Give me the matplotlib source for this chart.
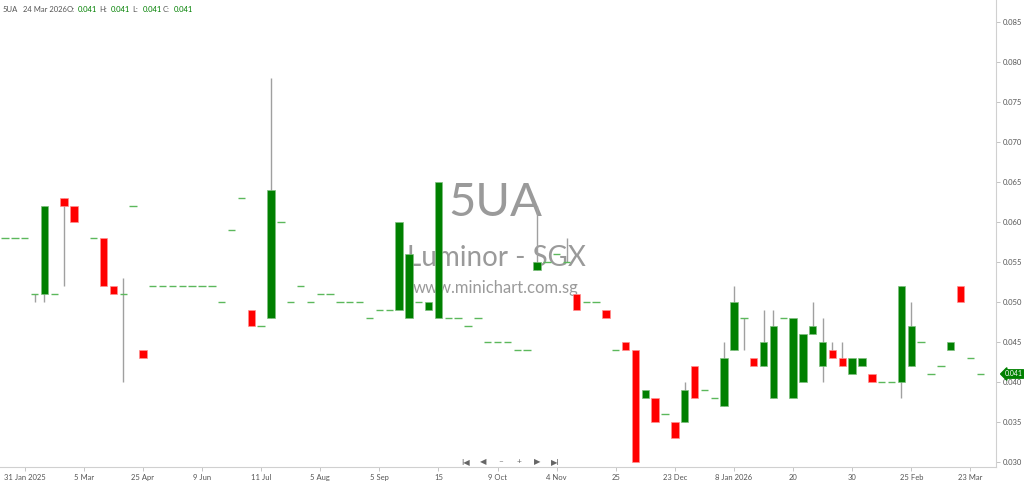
import numpy as np
import matplotlib
matplotlib.use("Agg")
import matplotlib.pyplot as plt
import matplotlib.transforms as mtransforms

plt.rcParams["font.family"] = ["Lato", "DejaVu Sans"]

# daily candles (trading-day index), NaN = no print
opens = [0.058, 0.058, 0.058, 0.051, 0.051, 0.051, 0.063, 0.062, np.nan, 0.058,
         0.058, 0.052, 0.051, 0.062, 0.044, 0.052, 0.052, 0.052, 0.052, 0.052,
         0.052, 0.052, 0.050, 0.059, 0.063, 0.049, 0.047, 0.048, 0.060, 0.050,
         0.052, 0.050, 0.051, 0.051, 0.050, 0.050, 0.050, 0.048, 0.049, 0.049,
         0.049, 0.048, 0.050, 0.049, 0.048, 0.048, 0.048, 0.047, 0.048, 0.045,
         0.045, 0.045, 0.044, 0.044, 0.054, 0.055, 0.056, 0.055, 0.051, 0.050,
         0.050, 0.049, 0.044, 0.045, 0.044, 0.038, 0.038, 0.036, 0.035, 0.035,
         0.042, 0.039, 0.038, 0.037, 0.044, 0.048, 0.043, 0.042, 0.038, 0.048,
         0.038, 0.040, 0.046, 0.042, 0.044, 0.043, 0.041, 0.042, 0.041, 0.040,
         0.040, 0.040, 0.042, 0.045, 0.041, 0.042, 0.044, 0.052, 0.043, 0.041]
closes = [0.058, 0.058, 0.058, 0.051, 0.062, 0.051, 0.062, 0.060, np.nan, 0.058,
          0.052, 0.051, 0.051, 0.062, 0.043, 0.052, 0.052, 0.052, 0.052, 0.052,
          0.052, 0.052, 0.050, 0.059, 0.063, 0.047, 0.047, 0.064, 0.060, 0.050,
          0.052, 0.050, 0.051, 0.051, 0.050, 0.050, 0.050, 0.048, 0.049, 0.049,
          0.060, 0.056, 0.050, 0.050, 0.065, 0.048, 0.048, 0.047, 0.048, 0.045,
          0.045, 0.045, 0.044, 0.044, 0.055, 0.055, 0.056, 0.055, 0.049, 0.050,
          0.050, 0.048, 0.044, 0.044, 0.030, 0.039, 0.035, 0.036, 0.033, 0.039,
          0.038, 0.039, 0.038, 0.043, 0.050, 0.048, 0.042, 0.045, 0.047, 0.048,
          0.048, 0.046, 0.047, 0.045, 0.043, 0.042, 0.043, 0.043, 0.040, 0.040,
          0.040, 0.052, 0.047, 0.045, 0.041, 0.042, 0.045, 0.050, 0.043, 0.041]
highs = [0.058, 0.058, 0.058, 0.051, 0.062, 0.051, 0.063, 0.062, np.nan, 0.058,
         0.058, 0.052, 0.053, 0.062, 0.044, 0.052, 0.052, 0.052, 0.052, 0.052,
         0.052, 0.052, 0.050, 0.059, 0.063, 0.049, 0.047, 0.078, 0.060, 0.050,
         0.052, 0.050, 0.051, 0.051, 0.050, 0.050, 0.050, 0.048, 0.049, 0.049,
         0.060, 0.056, 0.050, 0.050, 0.065, 0.048, 0.048, 0.047, 0.048, 0.045,
         0.045, 0.045, 0.044, 0.044, 0.062, 0.055, 0.056, 0.058, 0.051, 0.050,
         0.050, 0.049, 0.044, 0.045, 0.044, 0.039, 0.038, 0.036, 0.035, 0.040,
         0.042, 0.039, 0.038, 0.045, 0.052, 0.048, 0.043, 0.049, 0.049, 0.048,
         0.048, 0.046, 0.050, 0.048, 0.045, 0.045, 0.043, 0.043, 0.041, 0.040,
         0.040, 0.052, 0.050, 0.045, 0.041, 0.042, 0.045, 0.052, 0.043, 0.041]
lows = [0.058, 0.058, 0.058, 0.050, 0.050, 0.051, 0.052, 0.060, np.nan, 0.058,
        0.052, 0.051, 0.040, 0.062, 0.043, 0.052, 0.052, 0.052, 0.052, 0.052,
        0.052, 0.052, 0.050, 0.059, 0.063, 0.047, 0.047, 0.048, 0.060, 0.050,
        0.052, 0.050, 0.051, 0.051, 0.050, 0.050, 0.050, 0.048, 0.049, 0.049,
        0.049, 0.048, 0.050, 0.049, 0.048, 0.048, 0.048, 0.047, 0.048, 0.045,
        0.045, 0.045, 0.044, 0.044, 0.054, 0.055, 0.056, 0.055, 0.049, 0.050,
        0.050, 0.048, 0.044, 0.044, 0.030, 0.038, 0.035, 0.036, 0.033, 0.035,
        0.038, 0.039, 0.038, 0.037, 0.044, 0.044, 0.042, 0.042, 0.038, 0.048,
        0.038, 0.040, 0.046, 0.040, 0.043, 0.042, 0.041, 0.042, 0.040, 0.040,
        0.040, 0.038, 0.042, 0.045, 0.041, 0.042, 0.044, 0.050, 0.043, 0.041]

tick_idx = [2, 8, 14, 20, 26, 32, 38, 44, 50, 56, 62, 68, 74, 80, 86, 92, 98]
tick_labels = ["31 Jan 2025", "5 Mar", "25 Apr", "9 Jun", "11 Jul", "5 Aug", "5 Sep",
               "15", "9 Oct", "4 Nov", "25", "23 Dec", "8 Jan 2026", "20", "30",
               "25 Feb", "23 Mar"]
price_ticks = [0.030, 0.035, 0.040, 0.045, 0.050, 0.055, 0.060, 0.065, 0.070,
               0.075, 0.080, 0.085]
last_price = 0.041

UP = "#008000"
DOWN = "#ff0000"
DOJI = "#5cb85c"
WICK = "#a0a0a0"

o = np.array(opens); c = np.array(closes); h = np.array(highs); l = np.array(lows)
x = np.arange(len(o))
valid = ~np.isnan(o)

fig = plt.figure(figsize=(10.24, 4.84), dpi=100)
ax = fig.add_axes([0.0, 17 / 484, 996 / 1024, 467 / 484])

# watermark
ax.text(0.497, 0.565, "5UA", transform=ax.transAxes, ha="center", va="center",
        fontsize=34, color="#9a9a9a", zorder=0)
ax.text(0.498, 0.448, "Luminor - SGX", transform=ax.transAxes, ha="center", va="center",
        fontsize=20, color="#9a9a9a", zorder=0)
ax.text(0.4975, 0.383, "www.minichart.com.sg", transform=ax.transAxes, ha="center",
        va="center", fontsize=12, color="#9a9a9a", zorder=0)

w = 0.75
top = np.fmax(o, c); bot = np.fmin(o, c)
wick = valid & ((h > top) | (l < bot))
ax.vlines(x[wick], l[wick], h[wick], color=WICK, linewidth=1, zorder=2)

up = valid & (c > o)
dn = valid & (c < o)
flat = valid & (c == o)
ax.bar(x[up], c[up] - o[up], bottom=o[up], width=w, color=UP,
       edgecolor="#7fbf7f", linewidth=0.5, zorder=3)
ax.bar(x[dn], o[dn] - c[dn], bottom=c[dn], width=w, color=DOWN,
       edgecolor="#ff9090", linewidth=0.5, zorder=3)
ax.hlines(c[flat], x[flat] - w / 2, x[flat] + w / 2, color=DOJI, linewidth=1, zorder=3)

ax.set_xlim(-0.51, 100.6)
ax.set_ylim(0.029375, 0.08775)

ax.yaxis.tick_right()
ax.set_yticks(price_ticks)
ax.set_yticklabels([f"{p:.3f}" for p in price_ticks])
ax.set_xticks(tick_idx)
ax.set_xticklabels(tick_labels)
ax.tick_params(axis="both", labelsize=5.5, colors="#555555", length=3, width=0.6,
               pad=2, color="#bbbbbb")
for side in ["top", "left"]:
    ax.spines[side].set_visible(False)
for side in ["right", "bottom"]:
    ax.spines[side].set_color("#d0d0d0")
    ax.spines[side].set_linewidth(0.8)

# last price tag
trans = mtransforms.blended_transform_factory(ax.transAxes, ax.transData)
ax.text(1.009, last_price, "0.041", transform=trans, ha="left", va="center",
        fontsize=5, color="white", clip_on=False, zorder=5,
        bbox=dict(boxstyle="larrow,pad=0.1", facecolor=UP, edgecolor=UP))

# navigation controls
nav = ["I◀", "◀", "–", "+", "▶", "▶I"]
for k, s in enumerate(nav):
    ax.text(0.467 + k * 0.0181, 0.012, s, transform=ax.transAxes, ha="center",
            va="center", fontsize=6, color="#666666")

# header
head = [("5UA", 3, "#555555"), ("24 Mar 2026", 23, "#555555"), ("O:", 67, "#555555"),
        ("0.041", 78, UP), ("H:", 99, "#555555"), ("0.041", 111, UP),
        ("L:", 132, "#555555"), ("0.041", 143, UP), ("C:", 163, "#555555"),
        ("0.041", 174, UP)]
for s, px, col in head:
    fig.text(px / 1024, 1 - 10 / 484, s, ha="left", va="center", fontsize=5.5, color=col)

fig.savefig("out.png", dpi=100)
